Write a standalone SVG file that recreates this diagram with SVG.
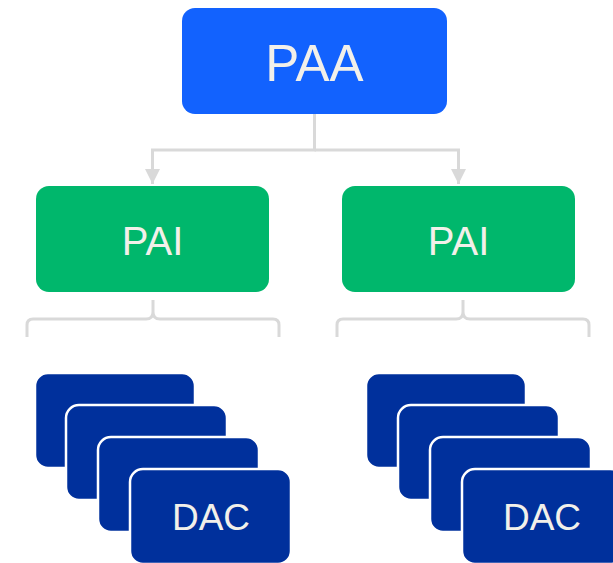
<svg xmlns="http://www.w3.org/2000/svg" width="613" height="563" viewBox="0 0 613 563">
  <style>
    .lbl { font-family: "Liberation Sans", Arial, sans-serif; fill: #f2f0ea; text-anchor: middle; }
    .paa { fill: #1262fe; }
    .pai { fill: #00b76c; }
    .dac { fill: #00309c; stroke: #ffffff; stroke-width: 2.5; }
    .wire { fill: none; stroke: #d9d9d9; stroke-width: 3; }
  </style>
  <defs>
    <marker id="arrow" viewBox="0 0 10 10" refX="10" refY="5" markerWidth="5" markerHeight="5" orient="auto" markerUnits="strokeWidth">
      <path d="M0,0 L10,5 L0,10 Z" fill="#d9d9d9"/>
    </marker>
  </defs>

  <g id="connectors">
    <path class="wire" d="M314.5,114 V150 H152.5 V184" marker-end="url(#arrow)"/>
    <path class="wire" d="M314.5,150 H458.5 V184" marker-end="url(#arrow)"/>
    <!-- brace under left PAI -->
    <path class="wire" d="M153,300 V312 Q153,319 146,319 H33 Q27,319 27,325 V337 M153,312 Q153,319 160,319 H273 Q279,319 279,325 V337"/>
    <!-- brace under right PAI -->
    <path class="wire" d="M463,300 V312 Q463,319 456,319 H343 Q337,319 337,325 V337 M463,312 Q463,319 470,319 H583 Q589,319 589,325 V337"/>
  </g>

  <g id="paa">
    <rect class="paa" x="182" y="8" width="265" height="106" rx="13"/>
    <text class="lbl" x="314.5" y="80.5" font-size="51">PAA</text>
  </g>

  <g id="pai-left">
    <rect class="pai" x="36" y="186" width="233" height="106" rx="13"/>
    <text class="lbl" x="152.5" y="255" font-size="40">PAI</text>
  </g>

  <g id="pai-right">
    <rect class="pai" x="342" y="186" width="233" height="106" rx="13"/>
    <text class="lbl" x="458.5" y="255" font-size="40">PAI</text>
  </g>

  <g id="dac-left">
    <rect class="dac" x="35" y="373" width="160" height="95" rx="13"/>
    <rect class="dac" x="66" y="405" width="161" height="95" rx="13"/>
    <rect class="dac" x="98" y="437" width="161" height="95" rx="13"/>
    <rect class="dac" x="130" y="469" width="161" height="95" rx="13"/>
    <text class="lbl" x="211" y="529.5" font-size="37">DAC</text>
  </g>

  <g id="dac-right">
    <rect class="dac" x="366" y="373" width="160" height="95" rx="13"/>
    <rect class="dac" x="398" y="405" width="161" height="95" rx="13"/>
    <rect class="dac" x="430" y="437" width="161" height="95" rx="13"/>
    <rect class="dac" x="462" y="469" width="161" height="95" rx="13"/>
    <text class="lbl" x="542" y="529.5" font-size="37">DAC</text>
  </g>
</svg>
